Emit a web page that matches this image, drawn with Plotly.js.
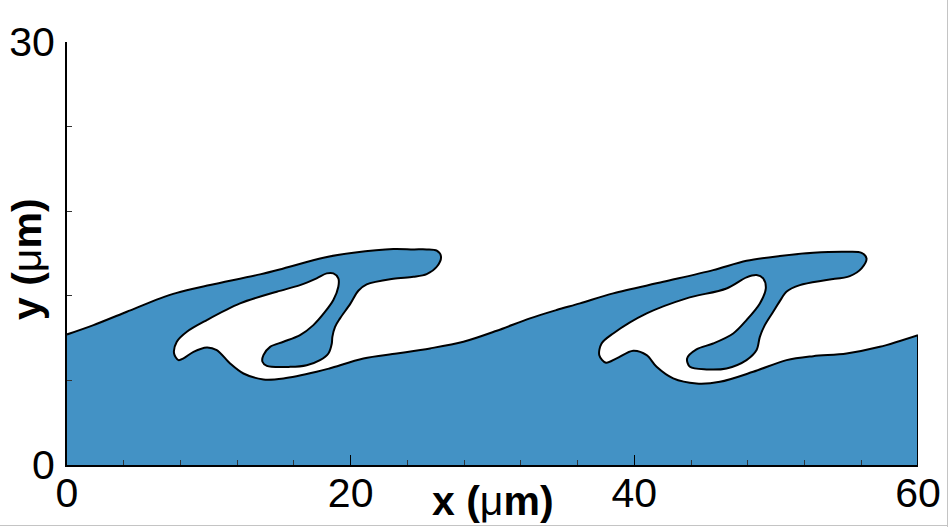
<!DOCTYPE html>
<html>
<head>
<meta charset="utf-8">
<script src="https://cdn.plot.ly/plotly-3.0.1.min.js"></script>
<style>
  html, body { margin: 0; padding: 0; background: #fff; }
  #chart { width: 948px; height: 527px; }
</style>
</head>
<body>
<div id="chart"></div>
<script>
// interface contour, first wave (x, y in um), traced left to right
const wave1X = [0, 1.87, 4.22, 6.57, 7.74, 10.09, 13.61, 15.26, 18.08, 20.19, 23.01, 24.42, 25.36, 26.07, 26.37, 26.07, 25.36, 24.42, 23.01, 21.13, 20.54, 19.96, 19.25, 18.9, 18.71, 18.67, 18.43, 17.84, 16.9, 15.73, 14.09, 13.78, 13.85, 14.32, 15.26, 16.43, 17.37, 18.2, 18.78, 19.13, 19.13, 18.78, 18.31, 17.6, 16.43, 14.79, 12.2, 9.86, 8.45, 7.74, 7.55, 7.86, 8.21, 8.92, 9.86, 10.56, 11.5, 12.44, 13.85, 15.26, 17.6, 18.55, 20.9, 23.25, 25.6, 27.95];
const wave1Y = [9.26, 9.92, 10.87, 11.82, 12.21, 12.76, 13.52, 13.94, 14.70, 15.05, 15.32, 15.29, 15.29, 15.2, 14.77, 14.06, 13.54, 13.35, 13.21, 12.81, 12.36, 11.41, 10.40, 9.80, 9.09, 8.62, 7.91, 7.44, 7.08, 6.96, 7.03, 7.32, 7.79, 8.38, 8.74, 9.21, 9.92, 10.87, 11.70, 12.64, 13.24, 13.59, 13.59, 13.24, 12.76, 12.29, 11.46, 10.28, 9.45, 8.74, 7.91, 7.44, 7.56, 8.03, 8.34, 8.15, 7.2, 6.49, 6.07, 6.14, 6.61, 6.86, 7.56, 7.91, 8.27, 8.74];

// interface contour, second wave
const wave2X = [30.3, 32.64, 34.52, 36.17, 38.51, 42.04, 45.56, 47.91, 50.26, 52.61, 54.96, 56.02, 56.37, 56.02, 55.19, 53.55, 51.67, 50.72, 50.38, 49.79, 49.2, 48.85, 48.62, 47.91, 46.5, 45.09, 43.92, 43.72, 44.38, 45.56, 46.97, 47.91, 48.85, 49.27, 49.08, 48.62, 47.91, 46.5, 43.68, 40.87, 38.51, 37.69, 37.53, 38.0, 38.75, 39.92, 40.87, 41.57, 42.74, 44.38, 46.03, 48.38, 50.73, 52.61, 54.96, 57.31, 60];
const wave2Y = [9.52, 10.4, 10.99, 11.46, 12.17, 12.99, 13.82, 14.48, 14.82, 15.05, 15.12, 15.05, 14.65, 13.95, 13.40, 13.12, 12.76, 12.29, 11.82, 10.87, 9.92, 9.09, 8.15, 7.44, 6.85, 6.78, 6.96, 7.56, 8.2, 8.62, 9.33, 10.28, 11.46, 12.52, 13.24, 13.47, 13.31, 12.52, 11.82, 10.75, 9.33, 8.62, 7.79, 7.25, 7.56, 8.10, 7.79, 6.96, 6.14, 5.78, 5.90, 6.61, 7.44, 7.72, 7.91, 8.38, 9.21];

const xTicks = [0, 20, 40, 60];
const yTicks = [0, 30];

const W = 948, H = 527;
const margin = {l: 67, r: 30, t: 42, b: 62};
const plotW = W - margin.l - margin.r;
const plotH = H - margin.t - margin.b;

const interfaceX = wave1X.concat(wave2X);
const interfaceY = wave1Y.concat(wave2Y);

// liquid below the interface, filled down to y = 0
const fluid = {
    x: interfaceX,
    y: interfaceY,
    mode: "lines",
    type: "scatter",
    fill: "tozeroy",
    fillcolor: "#4392c5",
    line: {color: "black", width: 2, shape: "spline", smoothing: 0.9},
    hoverinfo: "skip",
};

// outline of the domain's right edge
const lastX = interfaceX[interfaceX.length - 1];
const rightEdge = {
    x: [lastX, lastX],
    y: [0, interfaceY[interfaceY.length - 1]],
    mode: "lines",
    type: "scatter",
    line: {color: "black", width: 2},
    hoverinfo: "skip",
};

const tickFont = {family: "Liberation Sans, Arial, sans-serif", size: 41, color: "black"};
const titleFont = {family: "Liberation Sans, Arial, sans-serif", size: 41, color: "black"};

const layout = {
    width: W,
    height: H,
    margin: margin,
    paper_bgcolor: "white",
    plot_bgcolor: "white",
    showlegend: false,
    xaxis: {
        range: [0, 60],
        tickvals: xTicks,
        ticktext: xTicks.map(String),
        ticks: "inside",
        ticklen: 10,
        tickwidth: 1.5,
        tickcolor: "black",
        minor: {dtick: 4, tick0: 0, ticks: "inside", ticklen: 5, tickwidth: 1, tickcolor: "#333"},
        showline: true,
        linecolor: "black",
        linewidth: 2,
        showgrid: false,
        zeroline: false,
        tickfont: tickFont,
        ticklabelstandoff: -9,
    },
    yaxis: {
        range: [0, 30],
        tickvals: yTicks,
        ticktext: yTicks.map(String),
        ticks: "inside",
        ticklen: 10,
        tickwidth: 1.5,
        tickcolor: "black",
        minor: {dtick: 6, tick0: 0, ticks: "inside", ticklen: 5, tickwidth: 1, tickcolor: "#333"},
        showline: true,
        linecolor: "black",
        linewidth: 2,
        showgrid: false,
        zeroline: false,
        tickfont: tickFont,
        ticklabelstandoff: 2,
    },
    annotations: [
        {
            text: "<b>x (</b>μ<b>m)</b>",
            xref: "paper", yref: "paper",
            x: 0.5, y: 0,
            xanchor: "center", yanchor: "middle",
            yshift: -36,
            showarrow: false,
            font: titleFont,
        },
        {
            text: "<b>y (</b>μ<b>m)</b>",
            xref: "paper", yref: "paper",
            x: 0, y: 0.487,
            xanchor: "center", yanchor: "middle",
            xshift: -40,
            textangle: -90,
            showarrow: false,
            font: titleFont,
        },
    ],
    shapes: [
        // thin grey frame on the right and bottom edge of the picture
        {type: "line", xref: "paper", yref: "paper",
         x0: (W - 0.5 - margin.l) / plotW, x1: (W - 0.5 - margin.l) / plotW,
         y0: -margin.b / plotH, y1: 1 + margin.t / plotH,
         line: {color: "#c4c4c4", width: 1}},
        {type: "line", xref: "paper", yref: "paper",
         x0: -margin.l / plotW, x1: (W - margin.l) / plotW,
         y0: -(margin.b - 1.5) / plotH, y1: -(margin.b - 1.5) / plotH,
         line: {color: "#c4c4c4", width: 1}},
    ],
};

Plotly.newPlot("chart", [fluid, rightEdge], layout, {displayModeBar: false, staticPlot: true});
</script>
</body>
</html>
